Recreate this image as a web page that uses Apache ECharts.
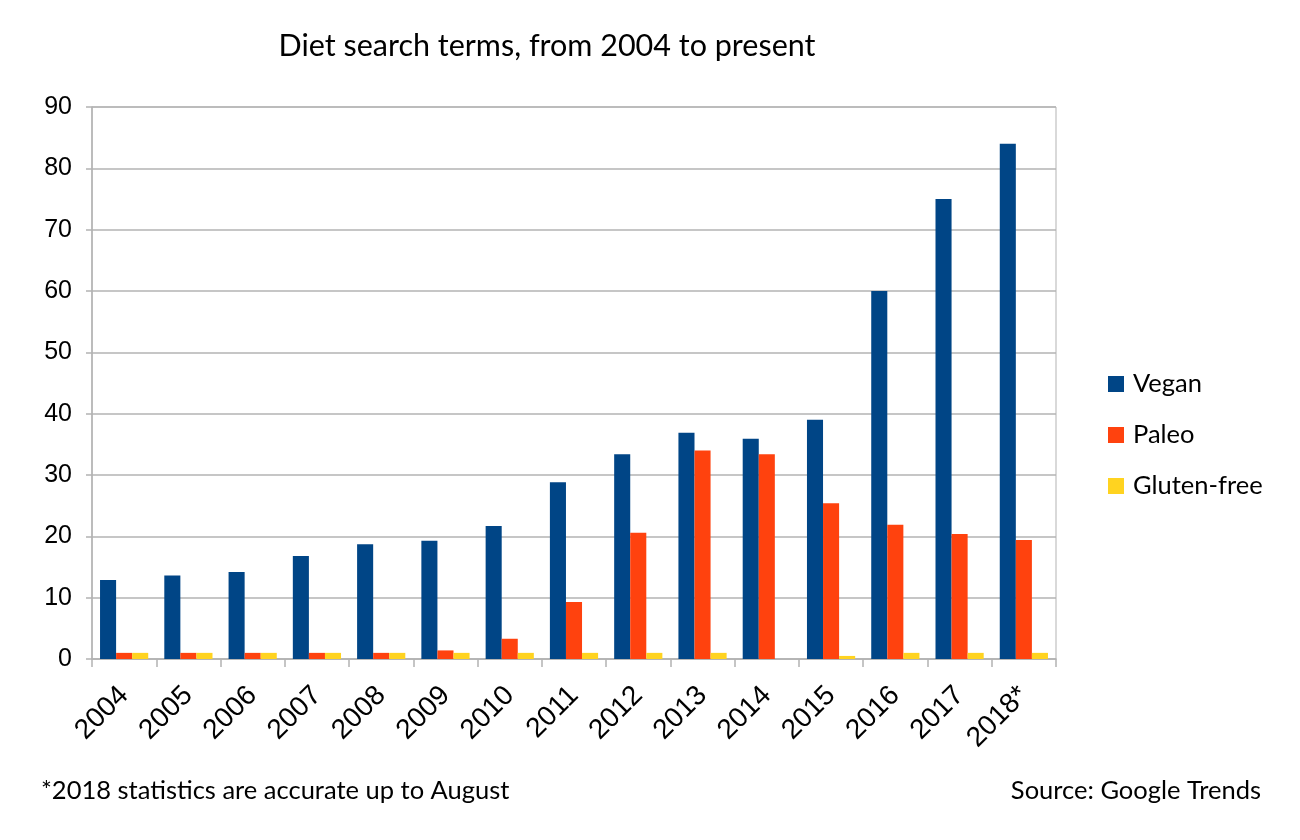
<!DOCTYPE html>
<html>
<head>
<meta charset="utf-8">
<script src="https://cdn.jsdelivr.net/npm/echarts@6/dist/echarts.min.js"></script>
<style>
  html, body { margin: 0; padding: 0; background: #fff; }
  #chart { width: 1300px; height: 840px; }
</style>
</head>
<body>
<div id="chart"></div>
<script>
const years = ['2004', '2005', '2006', '2007', '2008', '2009', '2010', '2011',
    '2012', '2013', '2014', '2015', '2016', '2017', '2018*'];
const vegan = [12.9, 13.6, 14.2, 16.8, 18.7, 19.3, 21.7, 28.8, 33.4, 36.9, 35.9, 39.0, 60.0, 75.0, 84.0];
const paleo = [1, 1, 1, 1, 1, 1.4, 3.3, 9.3, 20.6, 34.0, 33.4, 25.4, 21.9, 20.4, 19.4];
const glutenFree = [1, 1, 1, 1, 1, 1, 1, 1, 1, 1, 0, 0.5, 1, 1, 1];
const yTicks = [0, 90, 10]; // min, max, interval

const chart = echarts.init(document.getElementById('chart'));

const textFont = 'Lato';
const axisFont = 'Liberation Sans';

function bar(name, data, color) {
    return {
        name: name,
        type: 'bar',
        data: data,
        barGap: '0%',
        barCategoryGap: '25%',
        itemStyle: { color: color },
        emphasis: { disabled: true }
    };
}

chart.setOption({
    animation: false,
    title: [{
        text: 'Diet search terms, from 2004 to present',
        left: 542, top: 26, textAlign: 'center',
        textStyle: { fontFamily: textFont, fontSize: 30.5, fontWeight: 'normal', color: '#000' }
    }, {
        text: '*2018 statistics are accurate up to August',
        left: 36, top: 773,
        textStyle: { fontFamily: textFont, fontSize: 25.5, fontWeight: 'normal', color: '#000' }
    }, {
        text: 'Source: Google Trends',
        right: 34, top: 773,
        textStyle: { fontFamily: textFont, fontSize: 25.5, fontWeight: 'normal', color: '#000' }
    }],
    legend: {
        orient: 'vertical',
        left: 1103, top: 366,
        itemWidth: 16, itemHeight: 16,
        itemGap: 25,
        icon: 'rect',
        textStyle: { fontFamily: textFont, fontSize: 25.5, color: '#000', padding: [0, 0, 0, 4] },
        data: ['Vegan', 'Paleo', 'Gluten-free']
    },
    grid: {
        left: 92, right: 244, top: 107, bottom: 181,
        show: true, borderColor: '#b3b3b3', borderWidth: 1
    },
    xAxis: {
        type: 'category',
        data: years,
        axisLine: { lineStyle: { color: '#b3b3b3', width: 1.5 } },
        axisTick: { show: true, length: 8, lineStyle: { color: '#b3b3b3', width: 1.5 } },
        axisLabel: {
            rotate: 45, margin: 32,
            fontFamily: axisFont, fontSize: 28, color: '#000'
        }
    },
    yAxis: {
        type: 'value',
        min: yTicks[0], max: yTicks[1], interval: yTicks[2],
        axisLine: { show: true, lineStyle: { color: '#b3b3b3', width: 1.5 } },
        axisTick: { show: true, length: 6, lineStyle: { color: '#b3b3b3', width: 1.5 } },
        splitLine: { lineStyle: { color: '#b3b3b3', width: 1.5 } },
        axisLabel: { margin: 20, fontFamily: axisFont, fontSize: 25, color: '#000' }
    },
    series: [
        bar('Vegan', vegan, '#004586'),
        bar('Paleo', paleo, '#ff420e'),
        bar('Gluten-free', glutenFree, '#ffd320')
    ]
});
</script>
</body>
</html>
